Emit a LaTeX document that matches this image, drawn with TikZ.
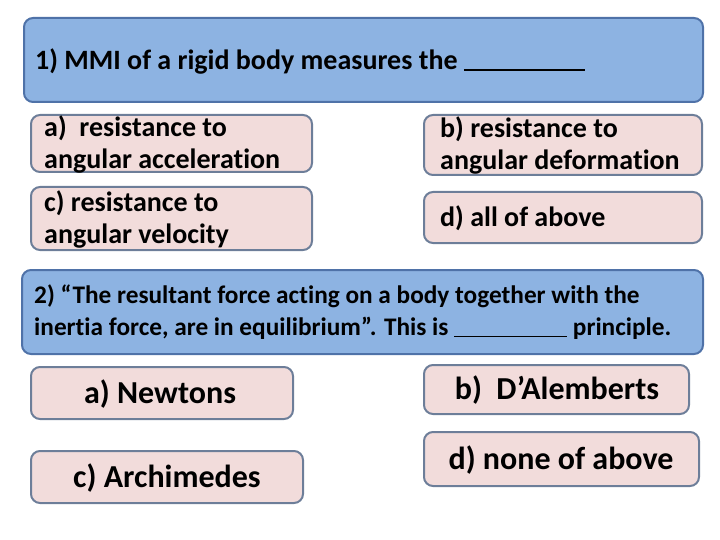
\documentclass[tikz,border=0pt]{standalone}
\usepackage{fontspec}
\setmainfont[Ligatures=NoCommon]{Carlito}
\definecolor{qfill}{HTML}{8DB3E2}
\definecolor{qdraw}{HTML}{4F72A8}
\definecolor{afill}{HTML}{F2DCDB}
\definecolor{adraw}{HTML}{6D7E99}
\newcommand{\myblank}[1]{\rule[-2pt]{#1}{1.6pt}}
\tikzset{
 qbox/.style={draw=qdraw,fill=qfill,line width=2pt,rounded corners=9pt},
 abox/.style={draw=adraw,fill=afill,line width=2pt,rounded corners=9pt},
 txt/.style={font=\bfseries\fontsize{28}{32}\selectfont,align=left,inner sep=0pt},
 big/.style={font=\bfseries\fontsize{32}{36}\selectfont,inner sep=0pt}
}
\begin{document}
\begin{tikzpicture}[x=1pt,y=-1pt]
\useasboundingbox (0,0) rectangle (720,540);
\draw[qbox] (24,18) rectangle (703,102);
\node[txt,anchor=west] (q1) at (35,61) {1) MMI of a rigid body measures the \myblank{121pt}};
\draw[abox] (31,115) rectangle (312,172);
\node[txt,anchor=west] (a1) at (44,144) {a)\ \ resistance to\\angular acceleration};
\draw[abox] (424,115) rectangle (702,175);
\node[txt,anchor=west] (b1) at (440,145) {b) resistance to\\angular deformation};
\draw[abox] (31,187) rectangle (312,250);
\node[txt,anchor=west] (c1) at (44,219) {c) resistance to\\angular velocity};
\draw[abox] (424,192) rectangle (702,243);
\node[txt,anchor=west] (d1) at (440,218) {d) all of above};
\draw[qbox] (22,270) rectangle (703,354);
\node[txt,anchor=west,font=\bfseries\fontsize{25.3}{32}\selectfont] (q2) at (34,312) {2) “The resultant force acting on a body together with the\\inertia force, are in equilibrium”. This is \myblank{113pt} principle.};
\draw[abox] (31,367) rectangle (293,419);
\node[big] (a2) at (160,394) {a) Newtons};
\draw[abox] (424,365) rectangle (689,414);
\node[big] (b2) at (557,390) {b)\ \ D’Alemberts};
\draw[abox] (31,451) rectangle (303,503);
\node[big] (c2) at (167,478) {c) Archimedes};
\draw[abox] (424,432) rectangle (699,486);
\node[big] (d2) at (561,460) {d) none of above};
\end{tikzpicture}
\end{document}
